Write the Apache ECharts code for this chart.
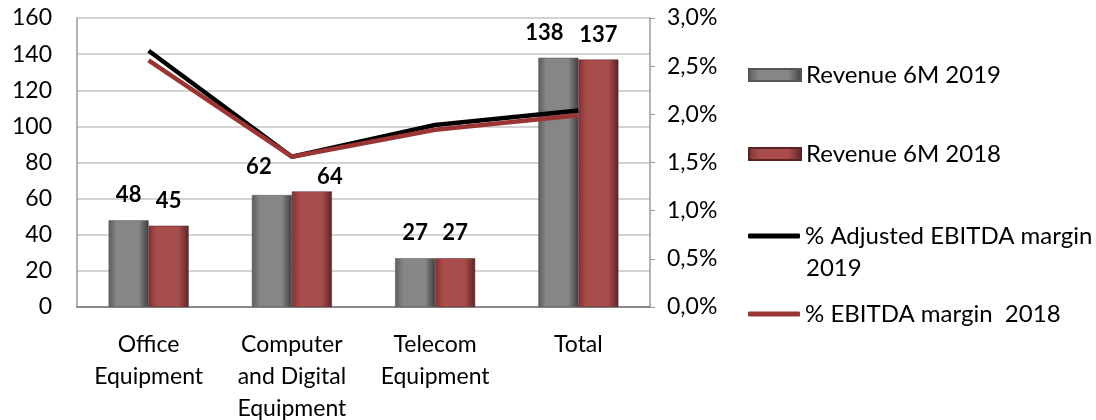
<!DOCTYPE html>
<html>
<head>
<meta charset="utf-8">
<script src="https://cdn.jsdelivr.net/npm/echarts@6/dist/echarts.min.js"></script>
<style>
  html, body { margin: 0; padding: 0; background: #fff; }
  #main { width: 1096px; height: 420px; }
</style>
</head>
<body>
<div id="main"></div>
<script>
let myChart = echarts.init(document.getElementById('main'));

// data
let categories = ['Office\nEquipment', 'Computer\nand Digital\nEquipment', 'Telecom\nEquipment', 'Total'];
let revenue2019 = [48, 62, 27, 138];
let revenue2018 = [45, 64, 27, 137];
let margin2019 = [2.66, 1.56, 1.89, 2.04];   // %
let margin2018 = [2.56, 1.56, 1.84, 1.99];   // %

let font = 'Lato';

function barGrad(edge, mid, dark) {
    return new echarts.graphic.LinearGradient(0, 0, 1, 0, [
        {offset: 0, color: edge},
        {offset: 0.2, color: mid},
        {offset: 0.75, color: mid},
        {offset: 1, color: dark}
    ]);
}
let grayFill = barGrad('#5c5c5c', '#868686', '#3e3e3e');
let redFill = barGrad('#7c3434', '#a84c4c', '#5e2424');

let valueLabel = {
    show: true,
    position: 'top',
    distance: 14,
    fontFamily: font,
    fontWeight: 'bold',
    fontSize: 22,
    color: '#000'
};

// some labels were moved by hand in the original
let labelTweaks2019 = {1: {offset: [-13, -3]}, 3: {offset: [-14, 0]}};
let labelTweaks2018 = {1: {offset: [18, 11]}};

function withLabels(values, tweaks) {
    return values.map((v, i) => tweaks[i] ? {value: v, label: tweaks[i]} : v);
}

function legendBox(name, top, icon, h) {
    return {
        data: [name],
        left: 748,
        top: top,
        padding: 0,
        icon: icon,
        itemWidth: 52,
        itemHeight: h,
        selectedMode: false,
        textStyle: {fontFamily: font, fontSize: 24, color: '#000'}
    };
}

let option = {
    animation: false,
    textStyle: {fontFamily: font},
    grid: {left: 77, right: 446, top: 18, bottom: 113, outerBoundsMode: 'none', containLabel: false},
    legend: [
        legendBox('Revenue 6M 2019', 63, 'rect', 12),
        legendBox('Revenue 6M 2018', 142, 'rect', 12),
        legendBox('% Adjusted EBITDA margin', 224, 'roundRect', 5),
        legendBox('% EBITDA margin  2018', 302, 'roundRect', 5)
    ],
    graphic: [{
        type: 'text',
        left: 806,
        top: 256,
        style: {text: '2019', fontFamily: font, fontSize: 24, fill: '#000'}
    }],
    xAxis: {
        type: 'category',
        data: categories,
        axisLine: {lineStyle: {color: '#8a8a8a', width: 2}},
        axisTick: {show: false},
        axisLabel: {
            color: '#000',
            fontFamily: font,
            fontSize: 23,
            lineHeight: 32,
            margin: 22,
            verticalAlign: 'top',
            interval: 0
        }
    },
    yAxis: [
        {
            type: 'value',
            min: 0,
            max: 160,
            interval: 20,
            axisLine: {show: true, lineStyle: {color: '#9a9a9a', width: 1.5}},
            axisTick: {show: false},
            splitLine: {lineStyle: {color: '#c4c4c4', width: 1.5}},
            axisLabel: {color: '#000', fontFamily: font, fontSize: 23, margin: 25}
        },
        {
            type: 'value',
            min: 0,
            max: 3,
            interval: 0.5,
            position: 'right',
            axisLine: {show: true, lineStyle: {color: '#9a9a9a', width: 1.5}},
            axisTick: {show: true, length: 5, lineStyle: {color: '#9a9a9a'}},
            splitLine: {show: false},
            axisLabel: {
                color: '#000',
                fontFamily: font,
                fontSize: 23,
                margin: 17,
                formatter: v => v.toFixed(1).replace('.', ',') + '%'
            }
        }
    ],
    series: [
        {
            name: 'Revenue 6M 2019',
            type: 'bar',
            barWidth: 40,
            barGap: '0%',
            data: withLabels(revenue2019, labelTweaks2019),
            itemStyle: {color: grayFill, borderColor: '#555', borderWidth: 0.5},
            label: valueLabel
        },
        {
            name: 'Revenue 6M 2018',
            type: 'bar',
            barWidth: 40,
            data: withLabels(revenue2018, labelTweaks2018),
            itemStyle: {color: redFill, borderColor: '#5a2222', borderWidth: 0.5},
            label: valueLabel
        },
        {
            name: '% Adjusted EBITDA margin',
            type: 'line',
            yAxisIndex: 1,
            data: margin2019,
            symbol: 'none',
            lineStyle: {color: '#000', width: 4.5},
            itemStyle: {color: '#000'}
        },
        {
            name: '% EBITDA margin  2018',
            type: 'line',
            yAxisIndex: 1,
            data: margin2018,
            symbol: 'none',
            lineStyle: {color: '#9b3535', width: 4.5},
            itemStyle: {color: '#9b3535'}
        }
    ]
};

myChart.setOption(option);
</script>
</body>
</html>
